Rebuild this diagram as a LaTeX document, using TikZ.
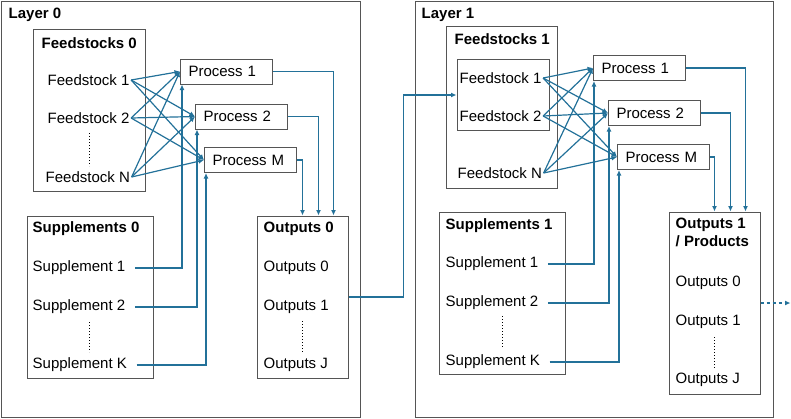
\documentclass[tikz,border=0pt]{standalone}
\usepackage{fontspec}
\setmainfont{Liberation Sans}
\usepackage{tikz}
\usetikzlibrary{arrows.meta, calc}
\definecolor{flowblue}{RGB}{35,113,153}
\definecolor{framegrey}{RGB}{85,85,85}

\tikzset{
  frame/.style={draw=framegrey, line width=1pt, inner sep=0pt},
  proc/.style={draw=framegrey, line width=1pt, text width=76pt, inner xsep=8pt, inner ysep=0pt,
    minimum height=25pt, align=left, anchor=west},
  item/.style={anchor=west, inner sep=1.5pt},
  title/.style={anchor=west, inner sep=1.5pt, font=\fontsize{15}{18}\selectfont\bfseries},
  flow/.style={draw=flowblue, line width=1.2pt, -{Latex[length=5.5pt, width=5pt]}},
  dotline/.style={dotted, line width=1pt}
}

\begin{document}
\begin{tikzpicture}[x=1pt, y=-1pt, font=\fontsize{15}{18}\selectfont]
    \useasboundingbox (0,0) rectangle (791,418);

    % Layer 0 frames
    \node[frame, minimum width=359pt, minimum height=416pt] (lay0) at (180.5,209) {};
    \node[frame, minimum width=112pt, minimum height=162pt] (fs0) at (89,110) {};
    \node[frame, minimum width=126pt, minimum height=162pt] (su0) at (90,297) {};
    \node[frame, minimum width=91pt, minimum height=162pt] (out0) at (302.5,297) {};
    \node[title] (lay0t) at (7,15) {Layer 0};

    % Feedstocks 0
    \node[title] (fs0t) at (40,43) {Feedstocks 0};
    \node[item] (f01) at (46,80) {Feedstock 1};
    \node[item] (f02) at (46,118) {Feedstock 2};
    \node[item] (f0N) at (44,177) {Feedstock N};
    \draw[dotline] (89,133) -- (89,166);

    % Processes 0
    \node[proc] (p01) at (180,71.5) {Process 1};
    \node[proc] (p02) at (195,116.5) {Process 2};
    \node[proc] (p0M) at (204,160) {Process M};

    % Supplements 0
    \node[title] (su0t) at (31,229) {Supplements 0};
    \node[item] (s01) at (31,268) {Supplement 1};
    \node[item] (s02) at (31,307) {Supplement 2};
    \node[item] (s0K) at (31,365) {Supplement K};
    \draw[dotline] (89,322) -- (89,352);

    % Outputs 0
    \node[title] (out0t) at (262,229) {Outputs 0};
    \node[item] (o00) at (262,268) {Outputs 0};
    \node[item] (o01) at (262,307) {Outputs 1};
    \node[item] (o0J) at (262,365) {Outputs J};
    \draw[dotline] (302,321) -- (302,352);

    % Feedstocks to processes, layer 0
    \draw[flow] (f01.east) -- (p01.west);
    \draw[flow] (f01.east) -- (p02.west);
    \draw[flow] (f01.east) -- (p0M.west);
    \draw[flow] (f02.east) -- (p01.west);
    \draw[flow] (f02.east) -- (p02.west);
    \draw[flow] (f02.east) -- (p0M.west);
    \draw[flow] (f0N.east) -- (p01.west);
    \draw[flow] (f0N.east) -- (p02.west);
    \draw[flow] (f0N.east) -- (p0M.west);

    % Supplements to processes, layer 0
    \draw[flow, shorten <=8pt] (s01.east) -| ($(p01.south west)+(2,0)$);
    \draw[flow, shorten <=8pt] (s02.east) -| ($(p02.south west)+(2,0)$);
    \draw[flow, shorten <=8pt] (s0K.east) -| ($(p0M.south west)+(2,0)$);

    % Processes to outputs, layer 0
    \draw[flow] (p01.east) -| ($(out0.north east)+(-15,0)$);
    \draw[flow] (p02.east) -| ($(out0.north east)+(-30,0)$);
    \draw[flow] (p0M.east) -| (out0.north);

    % Layer 1 frames
    \node[frame, minimum width=358pt, minimum height=416pt] (lay1) at (594,209) {};
    \node[frame, minimum width=111pt, minimum height=162pt] (fs1) at (501.5,107) {};
    \node[frame, minimum width=92pt, minimum height=71pt] (fs1in) at (503,95) {};
    \node[frame, minimum width=126pt, minimum height=162pt] (su1) at (502,293) {};
    \node[frame, minimum width=91pt, minimum height=182pt] (out1) at (714.5,303) {};
    \node[title] (lay1t) at (420,15) {Layer 1};

    % Feedstocks 1
    \node[title] (fs1t) at (453,39) {Feedstocks 1};
    \node[item] (f11) at (458,78) {Feedstock 1};
    \node[item] (f12) at (458,116) {Feedstock 2};
    \node[item] (f1N) at (456,173) {Feedstock N};

    % Processes 1
    \node[proc] (p11) at (593,68) {Process 1};
    \node[proc] (p12) at (608,113) {Process 2};
    \node[proc] (p1M) at (617,157) {Process M};

    % Supplements 1
    \node[title] (su1t) at (444,226) {Supplements 1};
    \node[item] (s11) at (444,264) {Supplement 1};
    \node[item] (s12) at (444,303) {Supplement 2};
    \node[item] (s1K) at (444,362) {Supplement K};
    \draw[dotline] (502,316) -- (502,348);

    % Outputs 1
    \node[title, align=left, anchor=north west] (out1t) at (674,216) {Outputs 1\\/ Products};
    \node[item] (o10) at (674,283) {Outputs 0};
    \node[item] (o11) at (674,322) {Outputs 1};
    \node[item] (o1J) at (674,380) {Outputs J};
    \draw[dotline] (714,337) -- (714,368);

    % Layer 0 outputs feed layer 1
    \draw[flow] (out0.east) -- ++(55,0) |- (fs1in.west);

    % Feedstocks to processes, layer 1
    \draw[flow] (f11.east) -- (p11.west);
    \draw[flow] (f11.east) -- (p12.west);
    \draw[flow] (f11.east) -- (p1M.west);
    \draw[flow] (f12.east) -- (p11.west);
    \draw[flow] (f12.east) -- (p12.west);
    \draw[flow] (f12.east) -- (p1M.west);
    \draw[flow] (f1N.east) -- (p11.west);
    \draw[flow] (f1N.east) -- (p12.west);
    \draw[flow] (f1N.east) -- (p1M.west);

    % Supplements to processes, layer 1
    \draw[flow, shorten <=8pt] (s11.east) -| ($(p11.south west)+(1,0)$);
    \draw[flow, shorten <=8pt] (s12.east) -| ($(p12.south west)+(1,0)$);
    \draw[flow, shorten <=8pt] (s1K.east) -| ($(p1M.south west)+(2,0)$);

    % Processes to outputs, layer 1
    \draw[flow] (p11.east) -| ($(out1.north east)+(-15,0)$);
    \draw[flow] (p12.east) -| ($(out1.north east)+(-30,0)$);
    \draw[flow] (p1M.east) -| (out1.north);

    % On to the next layer
    \draw[flow, dashed] (out1.east) -- ++(30,0);
\end{tikzpicture}
\end{document}
